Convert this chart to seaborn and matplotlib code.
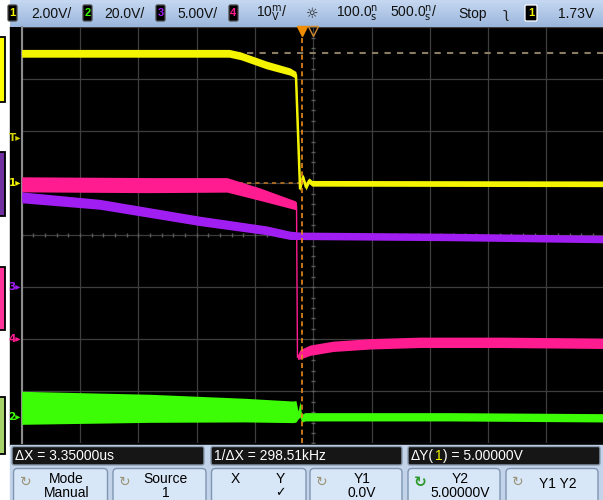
import matplotlib.pyplot as plt
import seaborn as sns
import pandas as pd
import numpy as np
from matplotlib.patches import Rectangle, FancyBboxPatch
from matplotlib.colors import LinearSegmentedColormap
from matplotlib.transforms import blended_transform_factory

# --- scope settings ---------------------------------------------------------
t_min, t_max = -2.4, 2.6          # us on screen (500 ns/div, 100 ns delay)
t_grid = np.arange(-2.4, 2.61, 0.5)

# channel 1 (yellow), volts, 2 V/div
ch1_t = [-2.40, -0.62, -0.52, -0.30, -0.10, -0.048, -0.013, 0.012, 0.038, 0.064, 0.09, 2.60]
ch1_v = [5.00, 5.00, 4.90, 4.55, 4.30, 4.17, -0.20, 0.25, -0.15, 0.10, 0.00, -0.02]
ch1_pp = [0.30, 0.30, 0.30, 0.30, 0.28, 0.26, 0.20, 0.22, 0.22, 0.22, 0.22, 0.22]

# channel 2 (green), volts, 20 V/div
ch2_t = [-2.40, -1.30, -0.49, -0.072, -0.048, -0.030, -0.013, 0.000, 0.030, 1.27, 2.60]
ch2_v = [3.65, 3.46, 2.77, 2.10, 2.30, 0.80, 3.10, -0.40, 0.20, 0.20, -0.20]
ch2_pp = [12.7, 10.8, 9.1, 8.3, 8.3, 3.0, 6.0, 3.0, 3.2, 3.2, 3.2]

# channel 3 (purple), volts, 5 V/div
ch3_t = [-2.40, -1.73, -0.87, -0.30, -0.10, -0.013, 1.27, 2.60]
ch3_v = [8.65, 7.98, 6.38, 5.48, 5.00, 4.95, 4.84, 4.64]
ch3_pp = [1.05, 0.95, 0.90, 0.85, 0.80, 0.72, 0.72, 0.72]

# channel 4 (pink), 10 /div
ch4_t = [-2.40, -1.30, -0.64, -0.356, -0.056, -0.043, -0.035, -0.013, 0.073, 0.27, 0.59, 1.016, 1.70, 2.60]
ch4_v = [29.8, 29.65, 29.7, 27.9, 25.8, 25.6, -3.46, -2.9, -2.1, -1.35, -0.87, -0.58, -0.58, -0.77]
ch4_pp = [2.9, 2.9, 2.8, 2.4, 1.7, 1.5, 0.8, 1.8, 2.0, 2.0, 2.0, 2.0, 2.0, 2.0]

# scale per division and ground marker position (divisions from centre)
scales = {'1': 2.0, '2': 20.0, '3': 5.0, '4': 10.0}
grounds = {'1': 1.0, '2': -3.5, '3': -1.0, '4': -2.0}
colors = {'1': '#f4f400', '2': '#3cfc06', '3': '#a11ef2', '4': '#ff1c90'}

trig_level = 1.73     # V on ch1
cursor_y = [0.0, 5.0]  # Y1, Y2 on ch1
cursor_x = 0.0

header_labels = ['2.00V/', '20.0V/', '5.00V/', '10$^{\\mathrm{m}}_{\\mathrm{V}}$/',
                 '100.0$^{\\mathrm{n}}_{\\mathrm{s}}$', '500.0$^{\\mathrm{n}}_{\\mathrm{s}}$/', 'Stop', '1.73V']
readouts = ['ΔX = 3.35000us', '1/ΔX = 298.51kHz']
dy_parts = ['ΔY(', '1', ') = 5.00000V']
softkeys = [('Mode', 'Manual'), ('Source', '1'), ('X', 'Y'), ('Y1', '0.0V'), ('Y2', '5.00000V'), ('Y1 Y2', '')]

NARROW = ['Liberation Sans Narrow', 'Liberation Sans', 'DejaVu Sans']

fig = plt.figure(figsize=(6.03, 5.0), dpi=100)
fig.patch.set_facecolor('white')

# background axes in pixel units for the instrument frame
bg = fig.add_axes([0, 0, 1, 1])
bg.axis('off')
bg.add_patch(Rectangle((9.5, 26), 594, 420, color='black', zorder=0))
grad = np.linspace(0, 1, 50).reshape(-1, 1)
bg.imshow(grad, extent=(9.5, 603, 27, 0), aspect='auto', zorder=1,
          cmap=LinearSegmentedColormap.from_list('hdr', ['#c6d8f1', '#9bb6dc']))

# coloured tabs on the far left
for y0, h, c in [(37, 65, '#ffff00'), (152, 64, '#7030a0'), (267, 63, '#ff3399'), (397, 57, '#a6d46a')]:
    bg.add_patch(Rectangle((-2, y0), 7, h, fc=c, ec='black', lw=1.3, zorder=2))

# header chips and text
def chip(x, label, color, w=9, edge='#4a4a4a'):
    bg.add_patch(FancyBboxPatch((x, 5), w, 16, boxstyle='round,pad=0,rounding_size=1.5',
                                fc='black', ec=edge, lw=0.9, zorder=3))
    bg.text(x + w / 2, 13.5, label, color=color, ha='center', va='center',
            fontsize=8, fontweight='bold', family=NARROW, zorder=4)

chip(8, '1', colors['1'])
chip(83, '2', colors['2'])
chip(156, '3', colors['3'])
chip(229, '4', colors['4'])
chip(525, '1', colors['1'], w=12, edge='white')
for x, lab in zip([31, 104, 177, 256, 336, 390, 458, 558], header_labels):
    bg.text(x, 14, lab, ha='left', va='center', fontsize=10, family=NARROW, color='#101010', zorder=4)
bg.text(312, 14, '☼', ha='center', va='center', fontsize=10, family=['DejaVu Sans'], color='#202020', zorder=4)
bg.text(506, 14, 'ʅ', ha='center', va='center', fontsize=10, family=['DejaVu Sans'], color='#202020', zorder=4)

# bottom panel
bg.add_patch(Rectangle((10, 445), 593, 60, color='#c3d4ea', zorder=1))
boxes = [(12, 204), (211, 402), (408, 600)]
for x0, x1 in boxes:
    bg.add_patch(FancyBboxPatch((x0, 446.5), x1 - x0, 18.5, boxstyle='round,pad=0,rounding_size=2',
                                fc='#161616', ec='#8d9cb0', lw=1, zorder=2))
for (x0, x1), lab in zip(boxes, readouts):
    bg.text(x0 + 3, 460, lab, ha='left', va='baseline', fontsize=10, family=NARROW, color='white', zorder=3)

keys = [(13.5, 107.5), (113, 206), (211.5, 306), (310, 402), (408, 500), (506, 598)]
for (x0, x1), (top, bot) in zip(keys, softkeys):
    bg.add_patch(FancyBboxPatch((x0, 468.5), x1 - x0, 40, boxstyle='round,pad=0,rounding_size=4',
                                fc='#d8e7f8', ec='#7f95b2', lw=1, zorder=2))
    xc = (x0 + x1) / 2 + 6
    if top == 'X':
        bg.text(x0 + 24, 479, 'X', ha='center', va='center', fontsize=10, family=NARROW, zorder=3)
        bg.text(x0 + 69, 479, 'Y', ha='center', va='center', fontsize=10, family=NARROW, zorder=3)
        bg.text(x0 + 69, 493, '✓', ha='center', va='center', fontsize=9, family=['DejaVu Sans'], zorder=3)
        continue
    icon_col = '#2e9a2e' if top == 'Y2' else '#9a9478'
    bg.text(x0 + 12, 482, '↻', ha='center', va='center', fontsize=11 if top == 'Y2' else 10,
            fontweight='bold' if top == 'Y2' else 'normal', family=['DejaVu Sans'], color=icon_col, zorder=3)
    if bot:
        bg.text(xc, 479, top, ha='center', va='center', fontsize=10, family=NARROW, zorder=3)
        bg.text(xc, 493, bot, ha='center', va='center', fontsize=10, family=NARROW, zorder=3)
    else:
        bg.text(xc, 484, top, ha='center', va='center', fontsize=10, family=NARROW, zorder=3)

bg.set_xlim(0, 603)
bg.set_ylim(500, 0)

# ΔY readout in three pieces so that the channel number is yellow
fig.canvas.draw()
r = fig.canvas.get_renderer()
x_dy = boxes[2][0] + 3
part_cols = ['white', colors['1'], 'white']
for i, (part, c) in enumerate(zip(dy_parts, part_cols)):
    if i == 0:
        x = x_dy
    else:
        tmp = bg.text(x_dy, 460, ''.join(dy_parts[:i]), fontsize=10, family=NARROW, va='baseline')
        x = x_dy + tmp.get_window_extent(r).width + 1.0
        tmp.remove()
    bg.text(x, 460, part, ha='left', va='baseline', fontsize=10, family=NARROW, color=c, zorder=3)

# --- scope graticule --------------------------------------------------------
ax = fig.add_axes([21.7 / 603, (500 - 443.3) / 500, (604.7 - 21.7) / 603, (443.3 - 27.3) / 500])
ax.set_facecolor('black')
ax.set_xlim(t_min, t_max)
ax.set_ylim(-4, 4)
ax.set_xticks(t_grid)
ax.set_yticks(np.arange(-4, 4.1, 1))
ax.grid(True, color='#3e3e3e', lw=0.9)
ax.set_axisbelow(True)
ax.tick_params(length=0, labelbottom=False, labelleft=False)
for s in ['top', 'right', 'bottom']:
    ax.spines[s].set_visible(False)
ax.spines['left'].set_color('#8c8c8c')
ax.spines['left'].set_linewidth(1.5)

# minor ticks on centre axes
ax.plot(np.arange(-2.4, 2.6, 0.1), np.zeros(50), ls='none', marker='|', ms=3, color='#5a5a5a', zorder=1)
ax.plot(np.full(40, 0.1), np.arange(-4, 4, 0.2), ls='none', marker='_', ms=3, color='#5a5a5a', zorder=1)

# cursors
yc = np.array(cursor_y) / scales['1'] + grounds['1']
ax.axhline(yc[1], color='#8a7b63', lw=1.5, dashes=(3, 3), zorder=2)
ax.axhline(yc[0], color='#b8741e', lw=1.2, dashes=(2.5, 2.5), zorder=2)

# traces
traces = [('2', ch2_t, ch2_v, ch2_pp, 1.0), ('4', ch4_t, ch4_v, ch4_pp, 1.0),
          ('3', ch3_t, ch3_v, ch3_pp, 1.0), ('1', ch1_t, ch1_v, ch1_pp, 1.8)]
for ch, t, v, pp, lw in traces:
    d = np.array(v) / scales[ch] + grounds[ch]
    half = np.array(pp) / scales[ch] / 2
    ax.fill_between(t, d - half, d + half, color=colors[ch], lw=0, zorder=3)
    df = pd.DataFrame({'t': t, 'div': d})
    sns.lineplot(data=df, x='t', y='div', ax=ax, color=colors[ch], lw=lw,
                 sort=False, estimator=None, zorder=3)
ax.set_xlabel('')
ax.set_ylabel('')

ax.axvline(cursor_x, color='#e88a1a', lw=1.2, dashes=(3, 2), zorder=5)
ax.plot([cursor_x], [3.93], marker='v', ms=7, color='#f08c00', clip_on=False, zorder=6)
ax.plot([0.1], [3.93], marker='v', ms=7, mfc='none', mec='#d08a30', mew=1, clip_on=False, zorder=6)

# ground / trigger markers in the left strip
tr = blended_transform_factory(ax.transAxes, ax.transData)
marks = [('T', trig_level / scales['1'] + grounds['1'], '#d4d400')] + \
        [(ch, grounds[ch], colors[ch]) for ch in ['1', '3', '4', '2']]
for lab, y, c in marks:
    ax.text(-0.001, y, lab + '▸', transform=tr, ha='right', va='center', fontsize=7.5,
            fontweight='bold', family=['DejaVu Sans'], color=c, clip_on=False, zorder=6)

fig.savefig('out.png', dpi=100)
